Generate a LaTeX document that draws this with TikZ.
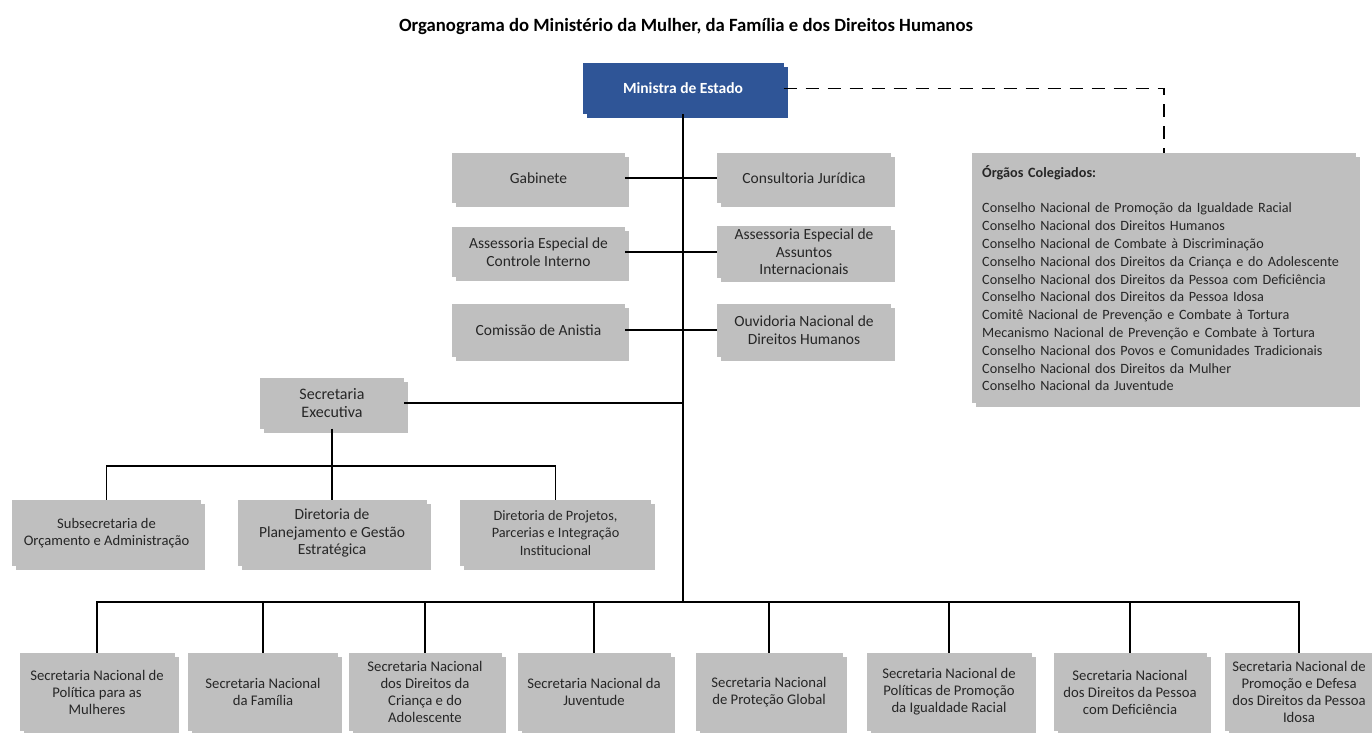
\documentclass[tikz,border=0pt]{standalone}
\usepackage{fontspec}
\setmainfont{Carlito}
\definecolor{boxgray}{HTML}{BFBFBF}
\definecolor{minblue}{HTML}{2F5597}
\definecolor{txt}{HTML}{262626}
\tikzset{
  gbox/.style={fill=boxgray, draw=none, align=center, inner sep=2pt, text=txt,
    font=\fontsize{15.5}{17.5}\selectfont,
    preaction={fill=boxgray, draw=none, transform canvas={xshift=4pt, yshift=-4pt}}},
  botbox/.style={gbox, font=\fontsize{14.7}{17}\selectfont, minimum height=78pt},
  bluebox/.style={fill=minblue, draw=none, text=white, font=\fontsize{15.5}{17}\selectfont\bfseries,
    preaction={fill=minblue, draw=none, transform canvas={xshift=4pt, yshift=-4pt}}},
  conn/.style={line width=1.4pt, draw=black},
  dashline/.style={line width=1.8pt, draw=black, dash pattern=on 13pt off 9pt},
}
\begin{document}
\begin{tikzpicture}[x=1pt, y=-1pt]
\useasboundingbox[fill=white] (0,0) rectangle (1372,732);

\node[font=\fontsize{18.7}{22}\selectfont\bfseries, text=black, anchor=base] (title) at (686,31)
  {Organograma do Ministério da Mulher, da Família e dos Direitos Humanos};

\node[bluebox, minimum width=201pt, minimum height=51pt] (min) at (683,88.5) {Ministra de Estado};

\node[gbox, minimum width=173pt, minimum height=50pt] (gab) at (538.5,178) {Gabinete};
\node[gbox, minimum width=174pt, minimum height=50pt] (cons) at (804,178) {Consultoria Jurídica};
\node[gbox, minimum width=173pt, minimum height=50pt] (aci) at (538.5,252) {Assessoria Especial de\\Controle Interno};
\node[gbox, minimum width=174pt, minimum height=52pt] (aai) at (804,252) {Assessoria Especial de\\Assuntos\\Internacionais};
\node[gbox, minimum width=173pt, minimum height=53pt] (com) at (538.5,330) {Comissão de Anistia};
\node[gbox, minimum width=174pt, minimum height=53pt] (ouv) at (804,330) {Ouvidoria Nacional de\\Direitos Humanos};

\node[gbox, font=\fontsize{16}{18}\selectfont, minimum width=144pt, minimum height=51pt] (sec) at (332,403) {Secretaria\\Executiva};

\node[gbox, font=\fontsize{14.6}{17.5}\selectfont, minimum width=189pt, minimum height=66pt] (sub) at (106.5,533) {Subsecretaria de\\Orçamento e Administração};
\node[gbox, font=\fontsize{15.5}{17.5}\selectfont, minimum width=189pt, minimum height=66pt] (dplan) at (332,533) {Diretoria de\\Planejamento e Gestão\\Estratégica};
\node[gbox, font=\fontsize{14.3}{17.5}\selectfont, minimum width=191pt, minimum height=66pt] (dproj) at (555.5,533) {Diretoria de Projetos,\\Parcerias e Integração\\Institucional};

\node[gbox, anchor=north west, minimum width=384pt, minimum height=250pt, text width=364pt,
  inner xsep=10pt, align=left, font=\fontsize{14.2}{17.8}\selectfont] (org) at (972,153)
  {{\bfseries Órgãos Colegiados:}\\[17.8pt]
   Conselho Nacional de Promoção da Igualdade Racial\\
   Conselho Nacional dos Direitos Humanos\\
   Conselho Nacional de Combate à Discriminação\\
   Conselho Nacional dos Direitos da Criança e do Adolescente\\
   Conselho Nacional dos Direitos da Pessoa com Deficiência\\
   Conselho Nacional dos Direitos da Pessoa Idosa\\
   Comitê Nacional de Prevenção e Combate à Tortura\\
   Mecanismo Nacional de Prevenção e Combate à Tortura\\
   Conselho Nacional dos Povos e Comunidades Tradicionais\\
   Conselho Nacional dos Direitos da Mulher\\
   Conselho Nacional da Juventude};

\node[botbox, minimum width=155pt] (b1) at (97,692) {Secretaria Nacional de\\Política para as\\Mulheres};
\node[botbox, minimum width=150pt] (b2) at (263,692) {Secretaria Nacional\\da Família};
\node[botbox, minimum width=153pt] (b3) at (425,692) {Secretaria Nacional\\dos Direitos da\\Criança e do\\Adolescente};
\node[botbox, minimum width=153pt] (b4) at (594,692) {Secretaria Nacional da\\Juventude};
\node[botbox, minimum width=147pt] (b5) at (769,692) {Secretaria Nacional\\de Proteção Global};
\node[botbox, minimum width=165pt] (b6) at (949,692) {Secretaria Nacional de\\Políticas de Promoção\\da Igualdade Racial};
\node[botbox, minimum width=153pt] (b7) at (1130,692) {Secretaria Nacional\\dos Direitos da Pessoa\\com Deficiência};
\node[botbox, minimum width=148pt] (b8) at (1299,692) {Secretaria Nacional de\\Promoção e Defesa\\dos Direitos da Pessoa\\Idosa};

\coordinate (bbus) at (683,602);
\coordinate (sbus) at (332,466);

\draw[conn] (min.south) -- (bbus);
\draw[conn] (gab.east) -- (cons.west);
\draw[conn] (aci.east) -- (aai.west);
\draw[conn] (com.east) -- (ouv.west);
\draw[conn] (sec.east) -- (sec.east -| min.south);
\draw[conn] (sec.south) -- (sbus);
\draw[conn] (sbus) -| (sub.north);
\draw[conn] (sbus) -- (dplan.north);
\draw[conn] (sbus) -| (dproj.north);
\foreach \b in {b1,b2,b3,b4,b5,b6,b7,b8} {\draw[conn] (bbus) -| (\b.north);}

\draw[dashline] (min.east) -- (min.east -| org.north) -- (org.north);
\end{tikzpicture}
\end{document}
